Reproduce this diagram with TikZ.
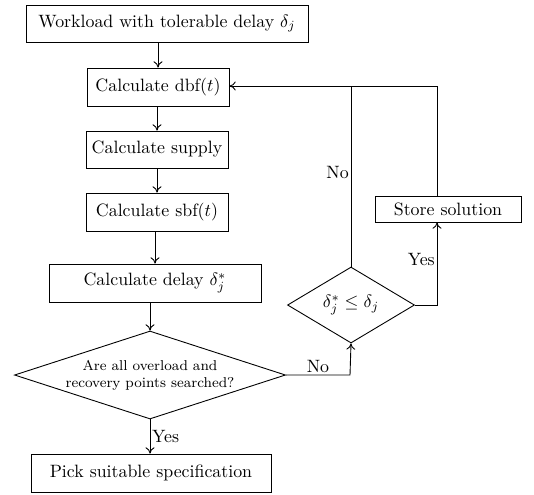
\documentclass[tikz,border=0pt]{standalone}
\usetikzlibrary{shapes.geometric,arrows.meta}
\begin{document}
\begin{tikzpicture}[x=0.56pt,y=-0.56pt,
  >={To[length=3.5pt,width=5pt]},
  box/.style={draw,line width=0.5pt,inner sep=0pt,font=\normalsize},
  dia/.style={draw,line width=0.5pt,diamond,inner sep=0pt,align=center},
  conn/.style={draw,line width=0.5pt},
  arr/.style={conn,->},
  lab/.style={font=\normalsize,inner sep=1pt}]
\useasboundingbox (0,0) rectangle (534,494);
\node[box,minimum width=282*0.56pt,minimum height=37*0.56pt] (b1) at (167,23.5) {Workload with tolerable delay $\delta_j$};
\node[box,minimum width=142*0.56pt,minimum height=38*0.56pt] (b2) at (158,87) {Calculate dbf$(t)$};
\node[box,minimum width=142*0.56pt,minimum height=37*0.56pt] (b3) at (157,149.5) {Calculate supply};
\node[box,minimum width=142*0.56pt,minimum height=38*0.56pt] (b4) at (157,212) {Calculate sbf$(t)$};
\node[box,minimum width=212*0.56pt,minimum height=38*0.56pt] (b5) at (155,283) {Calculate delay $\delta_j^*$};
\node[dia,shape aspect=3.08,minimum width=271*0.56pt,minimum height=88*0.56pt,font=\footnotesize] (d1) at (150,375) {Are all overload and\\recovery points searched?};
\node[box,minimum width=240*0.56pt,minimum height=38*0.56pt] (b6) at (151,473) {Pick suitable specification};
\node[dia,shape aspect=1.67,minimum width=127*0.56pt,minimum height=76*0.56pt,font=\normalsize] (d2) at (351,305) {$\delta_j^*\le\delta_j$};
\node[box,minimum width=146*0.56pt,minimum height=26*0.56pt] (st) at (448,209) {Store solution};
\coordinate (c1) at (350,371);
\coordinate (c2) at (437,305);
\coordinate (c3) at (437,86);
\coordinate (c4) at (351,86);
\draw[arr] (b1.south -| b2.north) -- (b2.north);
\draw[arr] (b2.south -| b3.north) -- (b3.north);
\draw[arr] (b3.south -| b4.north) -- (b4.north);
\draw[arr] (b4.south -| b5.north) -- (b5.north);
\draw[arr] (b5.south -| d1.north) -- (d1.north);
\draw[arr] (d1.south) -- node[lab,right] {Yes} (d1.south |- b6.north);
\draw[arr] (d1.east) -- node[lab,above] {No} (c1 |- d1.east) -- (d2.south);
\draw[arr] (d2.east) -- (c2) -- node[lab,left,pos=0.55] {Yes} (st.south -| c2);
\draw[arr] (st.north -| c3) -- (c3) -- (b2.east |- c3);
\draw[conn] (d2.north) -- node[lab,left,pos=0.52] {No} (c4);
\end{tikzpicture}
\end{document}
